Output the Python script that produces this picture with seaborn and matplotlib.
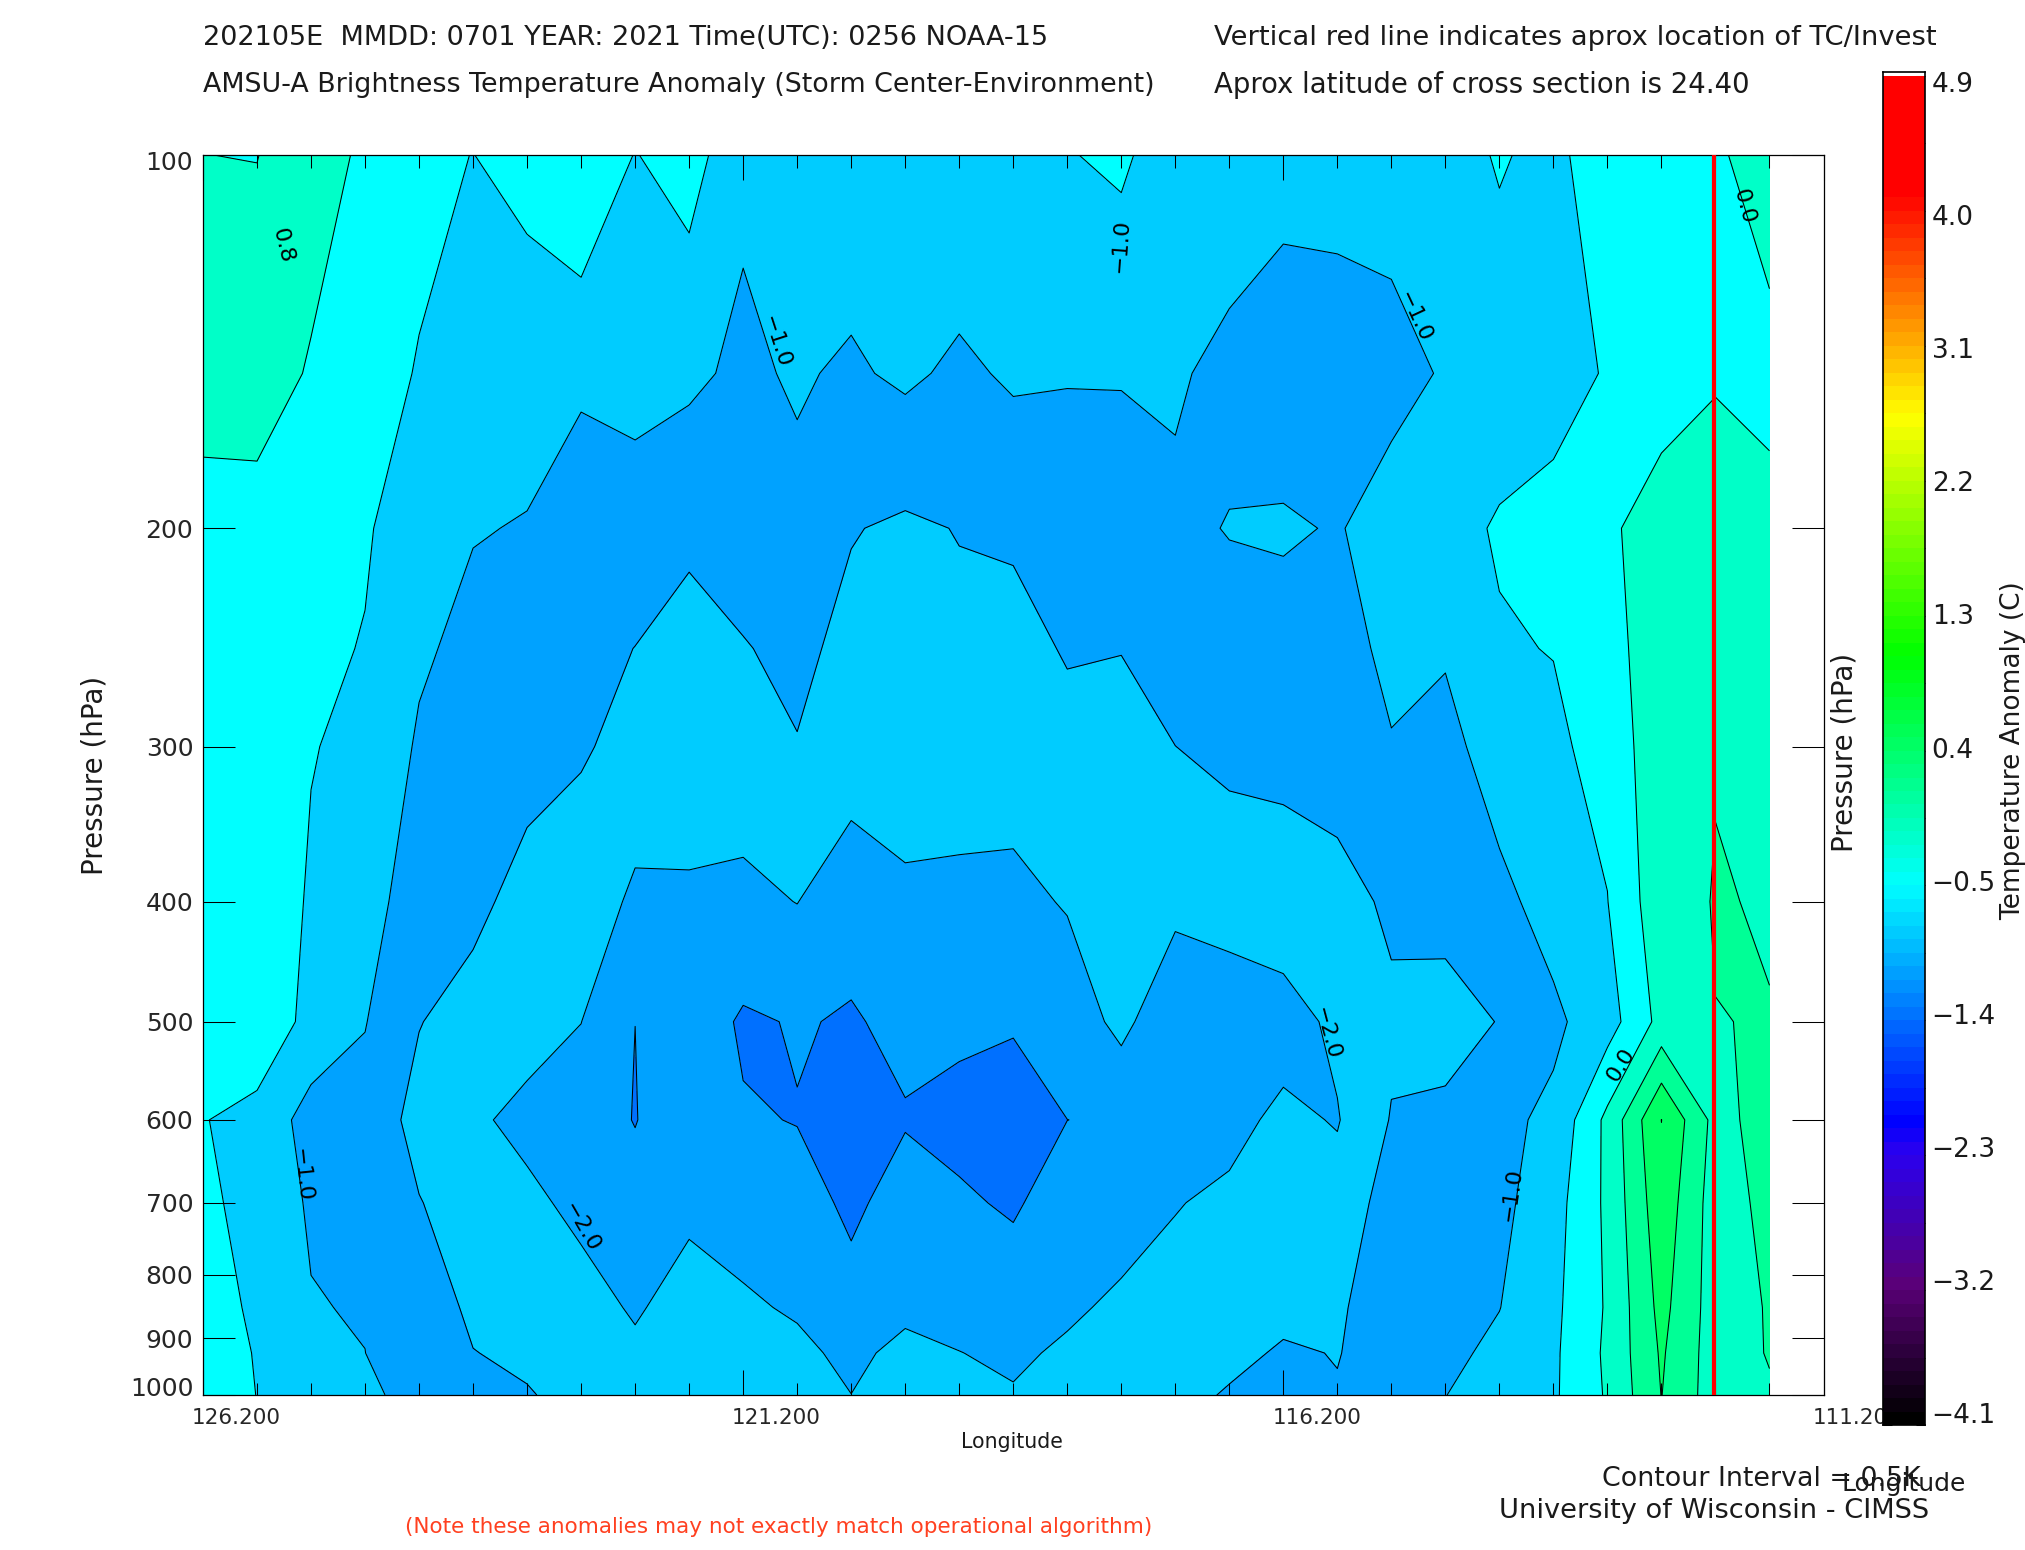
import numpy as np
import pandas as pd
import matplotlib
matplotlib.use("Agg")
import matplotlib.pyplot as plt
from matplotlib.colors import LinearSegmentedColormap
from matplotlib.transforms import ScaledTranslation
import seaborn as sns

# cross section grid: longitude columns, pressure rows (hPa)
lon = [126.2, 125.7, 125.2, 124.7, 124.2, 123.7, 123.2, 122.7, 122.2, 121.7,
       121.2, 120.7, 120.2, 119.7, 119.2, 118.7, 118.2, 117.7, 117.2, 116.7,
       116.2, 115.7, 115.2, 114.7, 114.2, 113.7, 113.2, 112.7, 112.2, 111.7]
pressure = [100, 150, 200, 250, 300, 400, 500, 600, 700, 850, 925, 1000]

t100 = [.003, -.012, .30, -.11, -.43, -.505, -.35, -.016, -.52, -.265,
        -.914, -.8, -.67, -.75, -.55, -.75, -.528, -.40, -.835, -.526,
        -.75, -.75, -.75, -.638, -.47, -.595, -.278, -.2, -.05, .158]
t150 = [.4, .32, -.06, -.4, -.515, -.65, -.763, -.88, -.8, -.923,
        -1.08, -.95, -1.07, -.909, -1.099, -.928, -.98, -.98, -.91, -1.2,
        -1.363, -1.302, -1.189, -.947, -.667, -.55, -.49, -.3, -.02, -.1]
t200 = [-.34, -.245, -.3, -.47, -.658, -.97, -1.03, -1.36, -1.265, -1.3,
        -1.3, -1.117, -1.475, -1.576, -1.482, -1.41, -1.184, -1.16, -1.135, -.972,
        -.93, -1.04, -.76, -.6, -.47, -.46, -.099, .283, .11, .1]
t250 = [-.38, -.38, -.44, -.514, -.918, -1.152, -1.25, -1.38, -1.505, -1.848,
        -1.523, -1.4, -1.62, -1.7, -1.604, -1.7, -1.45, -1.48, -1.3, -1.26,
        -1.23, -1.326, -.8, -.95, -.527, -.49, -.18, .28, .3, .25]
t300 = [-.42, -.42, -.49, -.552, -1.067, -1.2, -1.26, -1.48, -1.56, -1.7,
        -1.7, -1.518, -1.7, -1.7, -1.7, -1.7, -1.688, -1.766, -1.502, -1.4,
        -1.38, -1.2, -1.047, -1.15, -.765, -.567, -.376, .391, .482, .3]
t400 = [-.45, -.34, -.526, -.85, -1.19, -1.35, -1.72, -1.6, -2.122, -2.077,
        -2.12, -1.99, -2.329, -2.10, -2.13, -2.155, -1.954, -1.8, -1.847, -1.75,
        -1.7, -1.711, -1.4, -1.38, -1.123, -.808, -.509, .333, .519, .477]
t500 = [-.3, -.255, -.6, -.98, -1.48, -1.725, -1.85, -1.995, -2.499, -2.228,
        -2.56, -2.47, -2.538, -2.397, -2.45, -2.45, -2.34, -1.847, -2.459, -2.345,
        -2.2, -1.897, -1.606, -1.632, -1.487, -1.097, -.72, .157, .495, .51]
t600 = [-.486, -.605, -1.225, -1.167, -1.67, -1.94, -2.1, -2.23, -2.52, -2.12,
        -2.46, -2.515, -2.75, -2.53, -2.573, -2.75, -2.501, -2.47, -2.3, -2.13,
        -1.9, -2.03, -1.472, -1.43, -1.113, -.9, .12, 1.505, .336, .70]
t700 = [-.35, -.745, -1.045, -1.3, -1.48, -1.73, -1.92, -2.09, -2.307, -2.08,
        -2.2, -2.33, -2.58, -2.33, -2.466, -2.53, -2.38, -2.3, -2.02, -1.917,
        -1.7, -1.816, -1.28, -1.25, -1.13, -.7, .1, 1.33, .25, .64]
t850 = [-.35, -.558, -.98, -1.028, -1.3, -1.567, -1.75, -1.865, -2.04, -1.85,
        -1.938, -2.05, -2.36, -2.1, -2.2, -2.37, -2.1, -1.883, -1.853, -1.75,
        -1.65, -1.54, -1.34, -1.2, -1.01, -.613, .056, 1.15, .255, .537]
t925 = [-.42, -.509, -.8, -.997, -1.3, -1.492, -1.559, -1.7, -1.935, -1.7,
        -1.75, -1.906, -2.1, -1.883, -1.99, -2.1, -1.908, -1.8, -1.7, -1.642,
        -1.436, -1.52, -1.27, -1.11, -.895, -.583, .09, 1.06, .25, .53]
t1000 = [-.42, -.502, -.8, -.9, -1.17, -1.35, -1.479, -1.596, -1.62, -1.6,
         -1.7, -1.8, -1.997, -1.75, -1.75, -1.955, -1.8, -1.7, -1.667, -1.45,
         -1.3, -1.466, -1.25, -1.01, -.7, -.569, .056, 1.01, .249, .449]

levels = [-3.0, -2.5, -2.0, -1.5, -1.0, -0.5, 0.0, 0.5, 1.0, 1.5, 2.0]
band_colors = ["#0070ff", "#00a2ff", "#00ccff", "#00a2ff", "#00ccff",
               "#00ffff", "#00ffc8", "#00ff96", "#00ff64", "#00ff50"]

p_ticks = [100, 200, 300, 400, 500, 600, 700, 800, 900, 1000]
lon_major = [126.2, 121.2, 116.2, 111.2]
lon_minor = [126.2 - 0.5 * i for i in range(31)]
tc_lon = 112.215

# contour labels as they sit on the lines: lon, hPa, text, rotation
label_lon = [125.46, 120.9, 117.71, 114.99, 111.94, 125.29, 122.7, 115.8, 114.09, 113.08]
label_p = [118.3, 141.6, 118.3, 135, 110, 665, 732, 511, 689, 542]
label_txt = ["0.8", "\u22121.0", "\u22121.0", "\u22121.0", "0.0", "\u22121.0", "\u22122.0", "\u22122.0", "\u22121.0", "0.0"]
label_rot = [-76, -72, 86, -65, -75, -84, -60, -75, 82, 58]

cbar_labels = [4.9, 4.0, 3.1, 2.2, 1.3, 0.4, -0.5, -1.4, -2.3, -3.2, -4.1]
cbar_stops = [-4.1, -3.2, -2.3, -2.1, -0.5, 1.05, 2.65, 4.15, 4.9]
cbar_colors = ["#000000", "#5a0078", "#2a00f0", "#0000ff", "#00ffff", "#00ff00", "#ffff00", "#ff0000", "#ff0000"]

sns.set_theme(style="white")
plt.rcParams["font.family"] = ["DejaVu Sans"]
plt.rcParams["axes.edgecolor"] = "black"
plt.rcParams["axes.linewidth"] = 0.9
plt.rcParams["text.color"] = "#1a1a1a"

W, H = 2025, 1550
fig = plt.figure(figsize=(W / 100, H / 100), dpi=100, facecolor="white")


def rect(x0, y0, x1, y1):
    return [x0 / W, 1 - y1 / H, (x1 - x0) / W, (y1 - y0) / H]


def put(x, y, s, **kw):
    fig.text(x / W, 1 - y / H, s, **kw)


df = pd.DataFrame([t100, t150, t200, t250, t300, t400, t500, t600, t700, t850, t925, t1000],
                  index=pressure, columns=lon)

ax = fig.add_axes(rect(203, 155, 1823.5, 1395))
ax.set_axisbelow(False)
Y = np.log10(df.index.values)
ax.contourf(df.columns.values, Y, df.values, levels=levels, colors=band_colors)
ax.contour(df.columns.values, Y, df.values, levels=levels[1:-1], colors="black",
           linewidths=0.75, linestyles="solid")
sns.lineplot(x=[tc_lon, tc_lon], y=[2, 3], color="red", linewidth=3, ax=ax,
             estimator=None, sort=False, legend=False, zorder=5)

ax.set_xlim(126.2, 111.2)
ax.set_ylim(3, 2)
ax.set_xlabel("")
ax.set_ylabel("")
ax.set_xticks(lon_major)
ax.set_xticklabels(["%.3f" % v for v in lon_major], fontsize=15.5)
ax.set_xticks(lon_minor, minor=True)
ax.set_yticks(np.log10(p_ticks))
ax.set_yticklabels([str(p) for p in p_ticks], fontsize=18)
ax.tick_params(axis="x", which="major", direction="in", length=18, width=0.75,
               top=True, bottom=True, pad=9, color="black")
ax.tick_params(axis="x", which="minor", direction="in", length=9, width=0.75,
               top=True, bottom=True, color="black")
ax.tick_params(axis="y", which="major", direction="in", length=23, width=0.75,
               left=True, right=True, pad=7, color="black")
shift = ScaledTranslation(-11 / 100, 0, fig.dpi_scale_trans)
for t in ax.get_xticklabels():
    t.set_ha("left")
    t.set_transform(t.get_transform() + shift)
# the end labels are pulled in from the frame corners
ylabs = ax.get_yticklabels()
ylabs[0].set_transform(ylabs[0].get_transform() + ScaledTranslation(0, -6 / 100, fig.dpi_scale_trans))
ylabs[-1].set_transform(ylabs[-1].get_transform() + ScaledTranslation(0, 8 / 100, fig.dpi_scale_trans))

for x, p, s, r in zip(label_lon, label_p, label_txt, label_rot):
    ax.text(x, np.log10(p), s, rotation=r, rotation_mode="anchor", ha="center", va="center",
            fontsize=16, color="black", zorder=6)

# colour bar
cmap = LinearSegmentedColormap.from_list(
    "amsu", [((v + 4.1) / 9.0, c) for v, c in zip(cbar_stops, cbar_colors)], N=100)
steps = np.linspace(4.9, -4.1, 100)[:, None]
cax = fig.add_axes(rect(1883, 72, 1925, 1425))
sns.heatmap(steps, cmap=cmap, vmin=-4.1, vmax=4.9, cbar=False, ax=cax,
            xticklabels=False, yticklabels=False)
cax.set_ylim(100, -0.3)
cax.set_xlim(0, 1)
for s in cax.spines.values():
    s.set_visible(True)
    s.set_linewidth(1.2)
    s.set_color("black")
cb_ticks = [4.9 - 0.45 * i for i in range(21)]
cax.set_yticks([(4.9 - v) / 9.0 * 100 for v in cb_ticks])
cax.tick_params(axis="y", direction="in", length=6.5, width=0.75, left=True, right=True,
                labelleft=False, color="black")
for v in cbar_labels:
    y = (4.9 - (0.4 + (v - 0.4) * 0.987)) / 9.0 * 100
    cax.text(1.16, y, ("%.1f" % v).replace("-", "\u2212"), transform=cax.get_yaxis_transform(),
             fontsize=19, va="center", ha="left")

put(203, 38, "202105E  MMDD: 0701 YEAR: 2021 Time(UTC): 0256 NOAA-15", fontsize=19.5, va="center")
put(203, 85, "AMSU-A Brightness Temperature Anomaly (Storm Center-Environment)", fontsize=19.4, va="center")
put(1214, 38, "Vertical red line indicates aprox location of TC/Invest", fontsize=19.7, va="center")
put(1214, 85, "Aprox latitude of cross section is 24.40", fontsize=19.8, va="center")
put(95, 775, "Pressure (hPa)", fontsize=20, rotation=90, va="center", ha="center")
put(1844, 752, "Pressure (hPa)", fontsize=20, rotation=90, va="center", ha="center")
put(2013, 751, "Temperature Anomaly (C)", fontsize=19, rotation=90, va="center", ha="center")
put(1012, 1442, "Longitude", fontsize=14.8, va="center", ha="center")
put(1904, 1484, "Longitude", fontsize=18, va="center", ha="center")
put(1921, 1479, "Contour Interval = 0.5K", fontsize=19.4, va="center", ha="right")
put(1929, 1511, "University of Wisconsin - CIMSS", fontsize=19.6, va="center", ha="right")
put(405, 1527, "(Note these anomalies may not exactly match operational algorithm)",
    fontsize=15.5, va="center", ha="left", color="#ff4020")

fig.savefig("out.png", dpi=100, facecolor="white")
